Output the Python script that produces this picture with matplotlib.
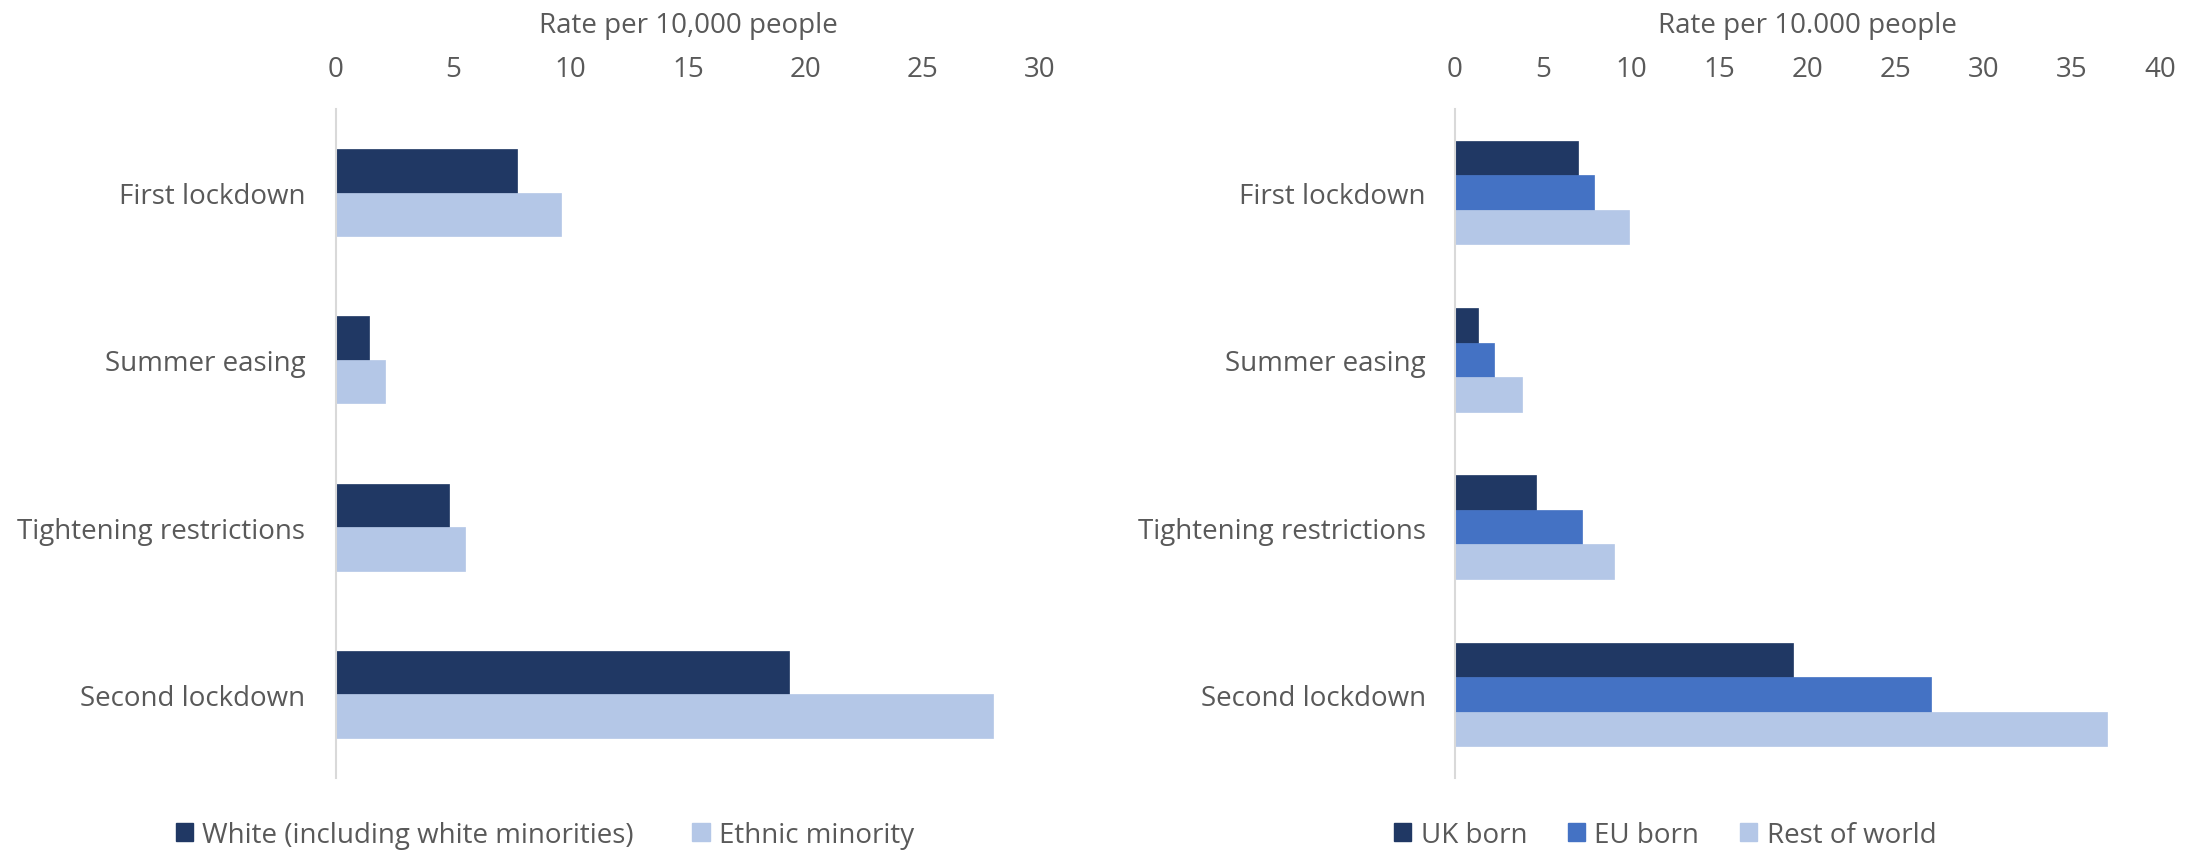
import matplotlib
matplotlib.use("Agg")
import matplotlib.pyplot as plt
from matplotlib.patches import Patch
import numpy as np

plt.rcParams['font.family'] = ['Open Sans', 'DejaVu Sans']

# Data
periods = ["First lockdown", "Summer easing", "Tightening restrictions", "Second lockdown"]

ethnicity_series = ["White (including white minorities)", "Ethnic minority"]
white_rate = [7.7, 1.4, 4.8, 19.3]
ethnic_minority_rate = [9.6, 2.1, 5.5, 28.0]

birthplace_series = ["UK born", "EU born", "Rest of world"]
uk_born_rate = [7.0, 1.3, 4.6, 19.2]
eu_born_rate = [7.9, 2.2, 7.2, 27.0]
rest_of_world_rate = [9.9, 3.8, 9.0, 37.0]

left_ticks = [0, 5, 10, 15, 20, 25, 30]
right_ticks = [0, 5, 10, 15, 20, 25, 30, 35, 40]

# Styling
DARK = "#203864"
MID = "#4472C4"
LIGHT = "#B4C7E7"
TEXT = "#595959"
AXIS = "#D9D9D9"
FS = 20

W, H = 2203, 853
fig = plt.figure(figsize=(W / 100, H / 100), dpi=100)

def px_axes(x0, x1, y0, y1):
    return fig.add_axes([x0 / W, 1 - y1 / H, (x1 - x0) / W, (y1 - y0) / H])

ax_l = px_axes(336, 1040, 110, 779)
ax_r = px_axes(1455, 2160, 110, 779)


def grouped_barh(ax, series_values, colors, bar_h):
    n = len(series_values)
    y = np.arange(len(periods))
    for i, (vals, c) in enumerate(zip(series_values, colors)):
        offset = (i - (n - 1) / 2) * bar_h
        ax.barh(y + offset, vals, height=bar_h, color=c, edgecolor=c, linewidth=0.5)
    ax.set_yticks(y)
    ax.set_yticklabels(periods)
    ax.set_ylim(len(periods) - 0.5, -0.5)


def style_axes(ax, ticks, xlabel, label_pad):
    ax.set_xlim(ticks[0], ticks[-1])
    ax.set_xticks(ticks)
    ax.set_xticklabels([str(t) for t in ticks])
    ax.xaxis.tick_top()
    ax.xaxis.set_label_position('top')
    ax.set_xlabel(xlabel, fontsize=FS, color=TEXT, labelpad=16)
    ax.tick_params(axis='x', length=0, pad=19, labelsize=FS, labelcolor=TEXT)
    ax.tick_params(axis='y', length=0, pad=label_pad, labelsize=FS, labelcolor=TEXT)
    for side in ("top", "right", "bottom"):
        ax.spines[side].set_visible(False)
    ax.spines["left"].set_color(AXIS)
    ax.spines["left"].set_linewidth(1.5)


grouped_barh(ax_l, [white_rate, ethnic_minority_rate], [DARK, LIGHT], 0.26)
style_axes(ax_l, left_ticks, "Rate per 10,000 people", 22)

grouped_barh(ax_r, [uk_born_rate, eu_born_rate, rest_of_world_rate], [DARK, MID, LIGHT], 0.206)
style_axes(ax_r, right_ticks, "Rate per 10.000 people", 21)

# Legends below each panel
leg_kw = dict(loc="center", frameon=False, fontsize=FS, labelcolor=TEXT,
              handlelength=0.62, handleheight=0.62, handletextpad=0.35,
              borderaxespad=0, borderpad=0)
fig.legend(handles=[Patch(color=c, label=l) for c, l in zip([DARK, LIGHT], ethnicity_series)],
           ncol=2, columnspacing=2.1, bbox_to_anchor=(545 / W, 1 - 836 / H), **leg_kw)
fig.legend(handles=[Patch(color=c, label=l) for c, l in zip([DARK, MID, LIGHT], birthplace_series)],
           ncol=3, columnspacing=1.45, bbox_to_anchor=(1665 / W, 1 - 836 / H), **leg_kw)

fig.savefig("out.png", dpi=100, facecolor="white")
